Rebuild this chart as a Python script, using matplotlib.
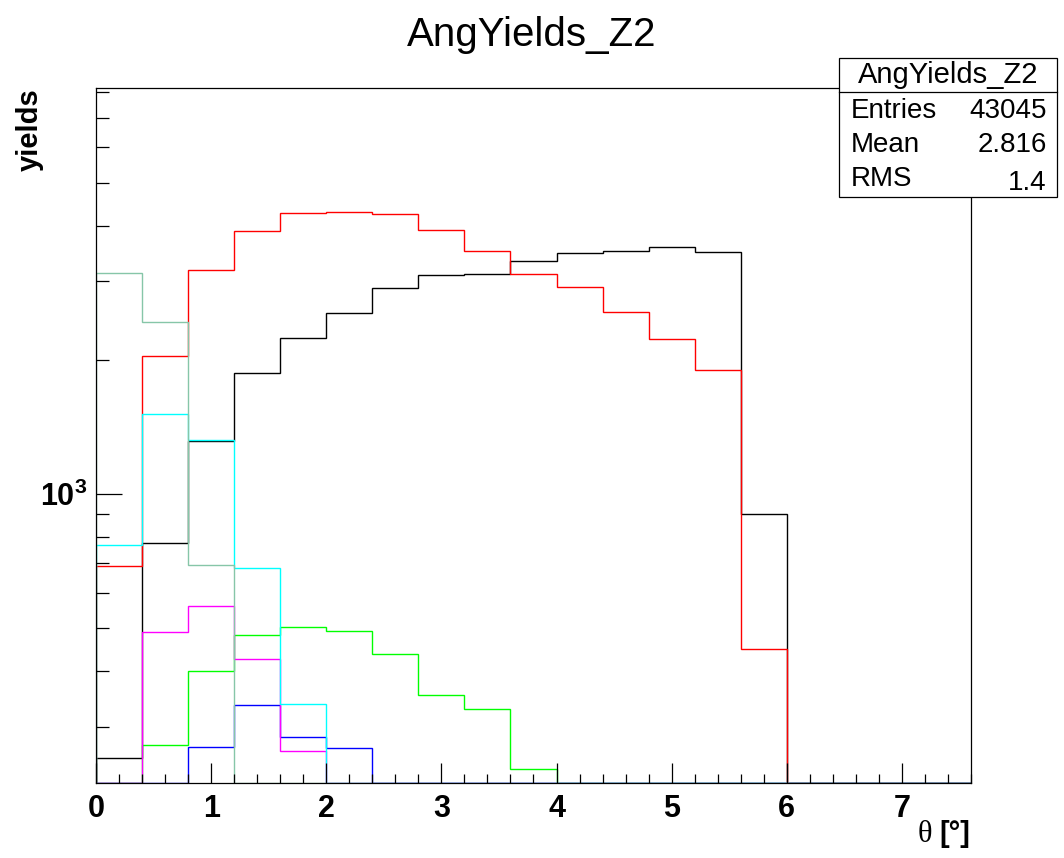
import numpy as np
import matplotlib
matplotlib.use('Agg')
import matplotlib.pyplot as plt
from matplotlib.ticker import LogLocator, NullFormatter, FixedLocator, MultipleLocator
from matplotlib.patches import Rectangle
from matplotlib.lines import Line2D

plt.rcParams['font.family'] = ['Liberation Sans', 'DejaVu Sans']
plt.rcParams['mathtext.fontset'] = 'custom'
plt.rcParams['mathtext.rm'] = 'Liberation Sans'
plt.rcParams['mathtext.bf'] = 'Liberation Sans:bold'

# histogram binning: 19 bins of 0.4 deg from 0 to 7.6
theta_edges = np.round(np.arange(20) * 0.4, 2)

# yields per bin
black = [255, 774, 1313, 1865, 2235, 2551, 2903, 3100, 3121, 3334, 3469, 3511, 3590, 3498, 900, 0, 0, 0, 0]
red = [687, 2039, 3177, 3894, 4280, 4296, 4246, 3914, 3511, 3112, 2914, 2557, 2223, 1897, 448, 0, 0, 0, 0]
green = [0, 272, 400, 481, 502, 492, 436, 354, 328, 241, 0, 0, 0, 0, 0, 0, 0, 0, 0]
blue = [0, 0, 270, 335, 284, 269, 0, 0, 0, 0, 0, 0, 0, 0, 0, 0, 0, 0, 0]
magenta = [0, 490, 559, 425, 265, 0, 0, 0, 0, 0, 0, 0, 0, 0, 0, 0, 0, 0, 0]
cyan = [767, 1513, 1320, 682, 337, 0, 0, 0, 0, 0, 0, 0, 0, 0, 0, 0, 0, 0, 0]
teal = [3133, 2436, 691, 0, 0, 0, 0, 0, 0, 0, 0, 0, 0, 0, 0, 0, 0, 0, 0]

stat_labels = ['Entries', 'Mean', 'RMS']
stat_values = ['43045', '2.816', '1.4']

W, H = 1064, 858
Y_MIN, Y_MAX = 224, 8160

def fx(x):
    return x / W

def fy(y):
    return 1 - y / H

fig = plt.figure(figsize=(W / 100, H / 100), dpi=100)
ax = fig.add_axes([fx(96), fy(783), fx(971 - 96), (783 - 88) / H])

series = [
    (black, 'black'),
    (red, '#ff0000'),
    (green, '#00ff00'),
    (blue, '#0000ff'),
    (magenta, '#ff00ff'),
    (cyan, '#00ffff'),
    (teal, '#86c6a8'),
]
for vals, col in series:
    v = np.array(vals, dtype=float)
    v = np.where(v > 0, v, Y_MIN)   # ROOT draws empty bins on the frame
    ax.stairs(v, theta_edges, baseline=Y_MIN, fill=False, color=col, lw=1.0)

ax.set_yscale('log')
ax.set_xlim(0, 7.6)
ax.set_ylim(Y_MIN, Y_MAX)

ax.yaxis.set_major_locator(FixedLocator([1000]))
ax.yaxis.set_minor_locator(LogLocator(base=10, subs=np.arange(2, 10)))
ax.yaxis.set_minor_formatter(NullFormatter())
ax.set_yticklabels([r'$\mathbf{10^{3}}$'])
ax.xaxis.set_major_locator(MultipleLocator(1))
ax.xaxis.set_minor_locator(MultipleLocator(0.2))

ax.tick_params(axis='x', which='major', direction='in', length=14.5, width=0.9,
               labelsize=22, pad=8, top=False)
ax.tick_params(axis='x', which='minor', direction='in', length=6.5, width=0.9, top=False)
ax.tick_params(axis='y', which='major', direction='in', length=18.5, width=0.9,
               labelsize=22, pad=6, right=False)
ax.tick_params(axis='y', which='minor', direction='in', length=9.5, width=0.9, right=False)
for lab in ax.get_xticklabels():
    lab.set_fontweight('bold')
for s in ax.spines.values():
    s.set_linewidth(0.9)

# title and axis titles
fig.text(0.5, fy(35), 'AngYields_Z2', ha='center', va='center', fontsize=29)
fig.text(fx(30), fy(88), 'yields', rotation=90, ha='center', va='top',
         fontsize=21, fontweight='bold')
fig.text(fx(970), fy(834), '[°]', ha='right', va='center', fontsize=21, fontweight='bold')
fig.text(fx(932), fy(834), 'θ', ha='right', va='center', fontsize=22,
         family=['Liberation Serif', 'DejaVu Serif'])

# stats box
box = Rectangle((fx(839), fy(197)), fx(1057 - 839), (197 - 58) / H,
                transform=fig.transFigure, facecolor='white', edgecolor='black',
                lw=0.9, zorder=5)
fig.add_artist(box)
fig.add_artist(Line2D([fx(839), fx(1057)], [fy(92), fy(92)], transform=fig.transFigure,
                      color='black', lw=0.9, zorder=6))
fig.text(fx(948), fy(75), 'AngYields_Z2', ha='center', va='center', fontsize=21, zorder=7)
row_y = [111, 145, 179]
for lab, val, yy in zip(stat_labels, stat_values, row_y):
    fig.text(fx(851), fy(yy), lab, ha='left', va='center', fontsize=20, zorder=7)
    dy = 4 if lab == 'RMS' else 0
    fig.text(fx(1047), fy(yy + dy), val, ha='right', va='center', fontsize=20, zorder=7)

fig.savefig('out.png', dpi=100)
